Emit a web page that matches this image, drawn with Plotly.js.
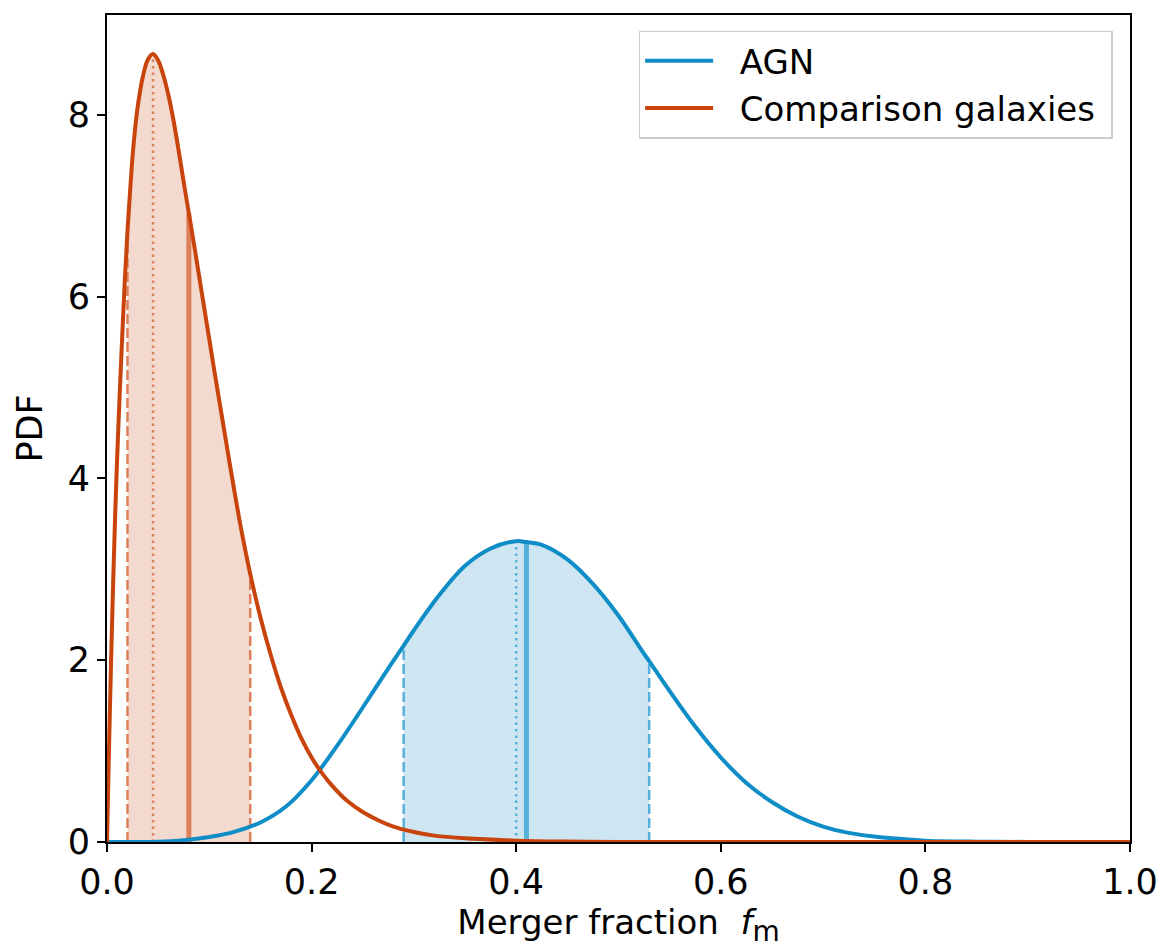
<!DOCTYPE html>
<html>
<head>
<meta charset="utf-8">
<script src="https://cdn.plot.ly/plotly-3.0.1.min.js"></script>
<style>html,body{margin:0;padding:0;background:#fff;}#chart{width:1163px;height:950px;}</style>
</head>
<body>
<div id="chart"></div>
<script>
// ---- data ----
const seriesNames = ["AGN", "Comparison galaxies"];

// AGN PDF
const agnX = [0.000, 0.050, 0.075, 0.100, 0.125, 0.150, 0.175, 0.200, 0.225, 0.250, 0.275, 0.290, 0.300, 0.325, 0.350, 0.375, 0.400, 0.410, 0.425, 0.450, 0.475, 0.500, 0.525, 0.530, 0.550, 0.575, 0.600, 0.625, 0.650, 0.675, 0.700, 0.725, 0.750, 0.775, 0.800, 0.850, 0.900, 1.000];
const agnY = [0.000, 0.003, 0.020, 0.055, 0.115, 0.215, 0.390, 0.680, 1.060, 1.480, 1.910, 2.160, 2.330, 2.720, 3.040, 3.230, 3.310, 3.300, 3.270, 3.110, 2.840, 2.490, 2.070, 1.990, 1.660, 1.270, 0.930, 0.650, 0.440, 0.280, 0.170, 0.100, 0.060, 0.035, 0.015, 0.004, 0.001, 0.000];

// Comparison galaxies PDF
const compX = [0.000, 0.002, 0.004, 0.006, 0.008, 0.010, 0.0125, 0.015, 0.0175, 0.020, 0.0225, 0.025, 0.0275, 0.030, 0.035, 0.040, 0.045, 0.050, 0.055, 0.060, 0.065, 0.070, 0.075, 0.080, 0.085, 0.090, 0.095, 0.100, 0.105, 0.110, 0.115, 0.120, 0.125, 0.130, 0.135, 0.140, 0.150, 0.160, 0.170, 0.180, 0.190, 0.200, 0.210, 0.220, 0.235, 0.250, 0.265, 0.280, 0.300, 0.320, 0.350, 0.400, 0.450, 0.500, 0.600, 1.000];
const compY = [0.000, 1.050, 2.000, 2.850, 3.600, 4.250, 4.950, 5.600, 6.200, 6.720, 7.150, 7.550, 7.850, 8.090, 8.420, 8.610, 8.670, 8.600, 8.440, 8.220, 7.940, 7.610, 7.260, 6.920, 6.580, 6.230, 5.880, 5.530, 5.180, 4.840, 4.500, 4.160, 3.830, 3.510, 3.220, 2.950, 2.470, 2.060, 1.700, 1.400, 1.140, 0.930, 0.760, 0.620, 0.450, 0.330, 0.240, 0.170, 0.110, 0.070, 0.040, 0.015, 0.005, 0.001, 0.000, 0.000];

// summary statistics (x positions)
const agnStats = {lower: 0.29, mode: 0.40, median: 0.41, upper: 0.53};
const compStats = {lower: 0.02, mode: 0.045, median: 0.08, upper: 0.14};

const xTicks = [0, 0.2, 0.4, 0.6, 0.8, 1.0];
const yTicks = [0, 2, 4, 6, 8];

// ---- styles ----
const agnLine = "#0f8dc6", agnFill = "#cee6f2", agnMark = "#55b0dc";
const compLine = "#c8440c", compFill = "#f3d9ce", compMark = "#dd805c";
const FONT = "DejaVu Sans, Liberation Sans, sans-serif";
const NB = "\u00a0";

function valAt(xs, ys, x) {
  const i = xs.findIndex(v => Math.abs(v - x) < 1e-9);
  return i >= 0 ? ys[i] : 0;
}
function band(xs, ys, lo, hi) {
  const bx = [], by = [];
  xs.forEach((v, i) => { if (v >= lo - 1e-9 && v <= hi + 1e-9) { bx.push(v); by.push(ys[i]); } });
  return {x: bx, y: by};
}
function vline(xs, ys, x, color, width, dash) {
  return {x: [x, x], y: [0, valAt(xs, ys, x)], mode: "lines", showlegend: false, hoverinfo: "skip",
          line: {color: color, width: width, dash: dash}};
}

const agnBand = band(agnX, agnY, agnStats.lower, agnStats.upper);
const compBand = band(compX, compY, compStats.lower, compStats.upper);

const traces = [
  {x: compBand.x, y: compBand.y, mode: "lines", fill: "tozeroy", fillcolor: compFill, line: {width: 0, shape: "spline", smoothing: 1}, showlegend: false, hoverinfo: "skip"},
  {x: agnBand.x, y: agnBand.y, mode: "lines", fill: "tozeroy", fillcolor: agnFill, line: {width: 0, shape: "spline", smoothing: 1}, showlegend: false, hoverinfo: "skip"},
  vline(compX, compY, compStats.lower, compMark, 2.5, "10px,4px"),
  vline(compX, compY, compStats.upper, compMark, 2.5, "10px,4px"),
  vline(compX, compY, compStats.mode, compMark, 2.5, "2.5px,4px"),
  vline(compX, compY, compStats.median, compMark, 5, "solid"),
  vline(agnX, agnY, agnStats.lower, agnMark, 2.5, "10px,4px"),
  vline(agnX, agnY, agnStats.upper, agnMark, 2.5, "10px,4px"),
  vline(agnX, agnY, agnStats.mode, agnMark, 2.5, "2.5px,4px"),
  vline(agnX, agnY, agnStats.median, agnMark, 5, "solid"),
  {x: agnX, y: agnY, mode: "lines", name: NB + NB + seriesNames[0] + NB, line: {color: agnLine, width: 4, shape: "spline", smoothing: 1}},
  {x: compX, y: compY, mode: "lines", name: NB + NB + seriesNames[1] + NB, line: {color: compLine, width: 4, shape: "spline", smoothing: 1}}
];

const axisCommon = {
  showline: true, linecolor: "#000", linewidth: 2, mirror: true,
  ticks: "outside", ticklen: 8, tickwidth: 2, tickcolor: "#000",
  showgrid: false, zeroline: false,
  tickfont: {family: FONT, size: 35, color: "#000"}
};

const layout = {
  width: 1163, height: 950,
  margin: {l: 107, r: 33, t: 15, b: 108},
  paper_bgcolor: "#fff", plot_bgcolor: "#fff",
  font: {family: FONT, size: 34, color: "#000"},
  xaxis: Object.assign({}, axisCommon, {
    range: [0, 1], tickvals: xTicks, ticktext: xTicks.map(v => v.toFixed(1)),
    title: {text: "Merger fraction\u00a0 <i>f</i><sub><span style='font-size:28px'>m</span></sub>", font: {family: FONT, size: 34}, standoff: 4}
  }),
  yaxis: Object.assign({}, axisCommon, {
    range: [0, 9.1], tickvals: yTicks, ticktext: yTicks.map(String),
    title: {text: "PDF", font: {family: FONT, size: 35}, standoff: 14}
  }),
  legend: {
    x: 0.983, y: 0.981, xanchor: "right", yanchor: "top",
    bgcolor: "rgba(255,255,255,0.8)", bordercolor: "#cccccc", borderwidth: 1.5,
    font: {family: FONT, size: 34, color: "#000"}, itemwidth: 68, tracegroupgap: 0
  },
  showlegend: true
};

Plotly.newPlot("chart", traces, layout, {displayModeBar: false, staticPlot: true});
</script>
</body>
</html>
